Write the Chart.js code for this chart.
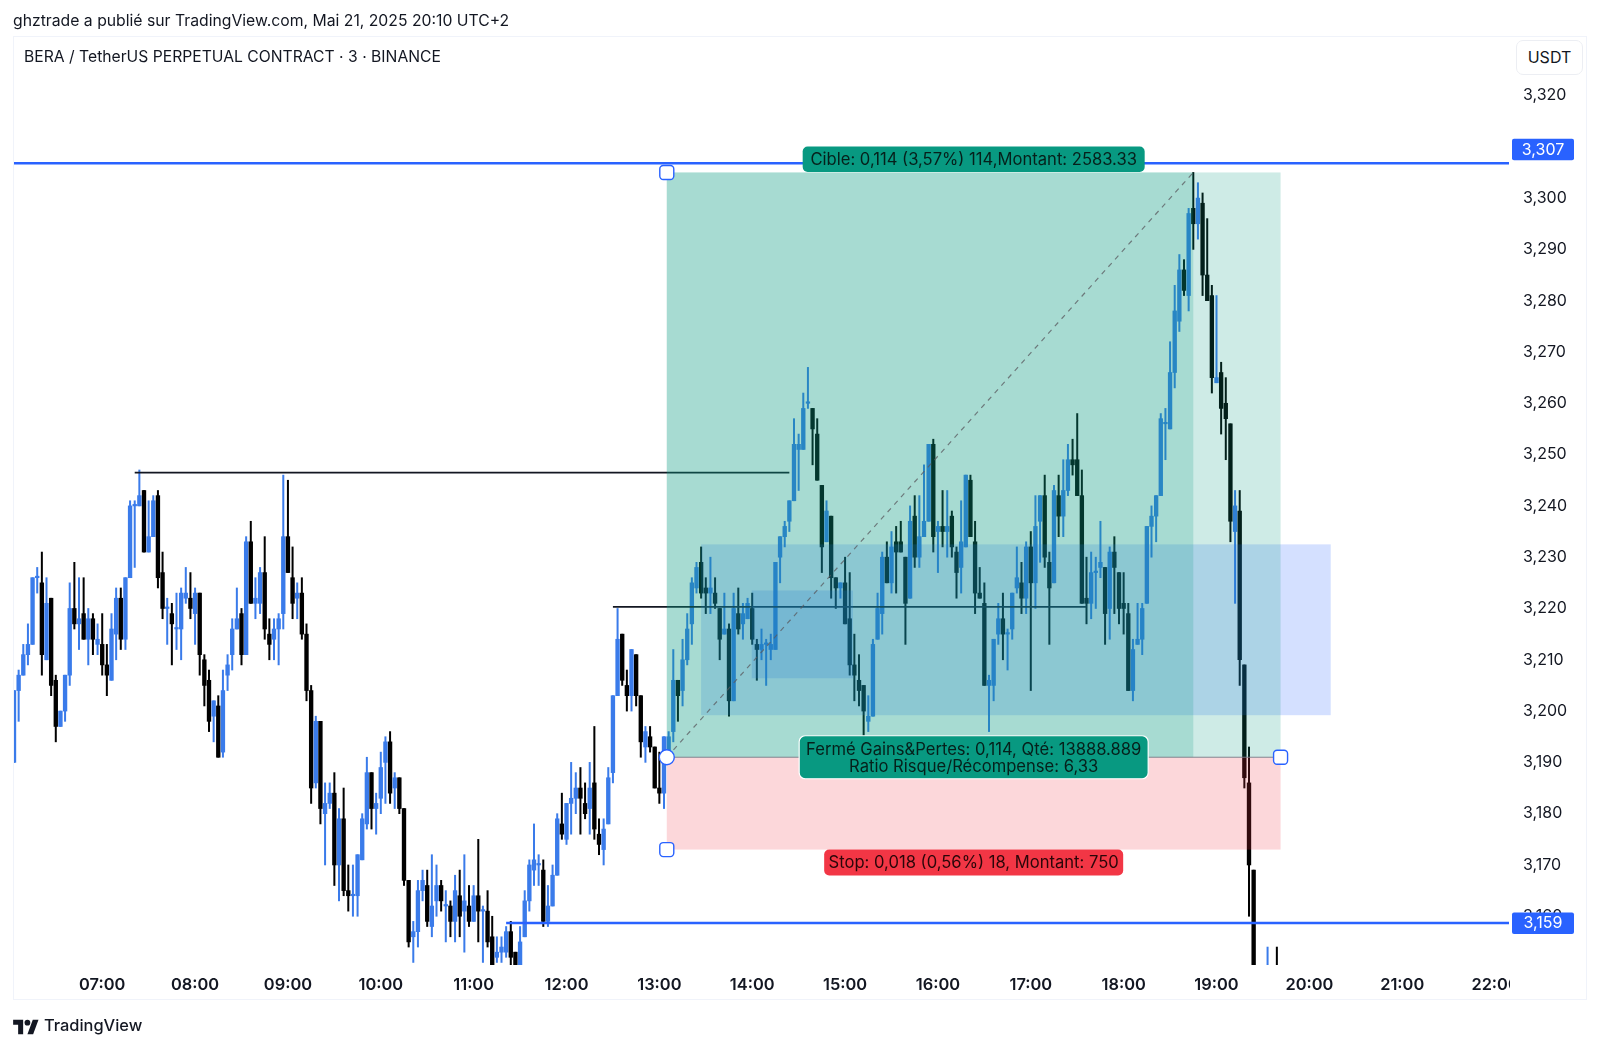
<!DOCTYPE html>
<html><head><meta charset="utf-8"><title>BERA / TetherUS</title>
<script src="https://cdn.jsdelivr.net/npm/chart.js@4/dist/chart.umd.min.js"></script>
<style>
html,body{margin:0;padding:0;background:#fff;width:1600px;height:1048px;overflow:hidden}
canvas{position:absolute;left:0;top:0}
.t{position:absolute;font-family:Inter,"Liberation Sans",sans-serif;color:#131722;white-space:nowrap}
</style></head><body>
<canvas id="c" width="1600" height="1048"></canvas>
<div class="t" style="left:13px;top:12px;font-size:15.75px;line-height:18px">ghztrade a publié sur TradingView.com, Mai 21, 2025 20:10 UTC+2</div>
<div class="t" style="left:24px;top:48px;font-size:15.7px;line-height:18px">BERA / TetherUS PERPETUAL CONTRACT · 3 · BINANCE</div>
<div class="t" style="left:1516px;top:40px;width:65px;height:33px;border:1px solid #eceef3;border-radius:7px;text-align:center;line-height:33px;font-size:16px;background:#fff">USDT</div>
<svg style="position:absolute;left:13px;top:1017px" width="26" height="20" viewBox="0 0 36 28"><path fill="#131722" d="M14 24H7V11H0V4h14v20zM28 24h-8l7.5-20h8L28 24z"/><circle cx="20" cy="8" r="4" fill="#131722"/></svg>
<div class="t" style="left:44px;top:1015px;font-size:16.4px;line-height:20px;font-weight:500">TradingView</div>
<script>
const hourTicks=["07:00","08:00","09:00","10:00","11:00","12:00","13:00","14:00","15:00","16:00","17:00","18:00","19:00","20:00","21:00","22:00"];
const opens=[3190,3204,3207,3211,3213,3226,3225,3210,3222,3206,
3197,3200,3207,3220,3217,3219,3214,3218,3213,3213,
3209,3206,3215,3222,3214,3226,3240,3240,3243,3231,
3234,3242,3227,3220,3219,3216,3216,3222,3222,3219,
3223,3210,3206,3199,3201,3192,3207,3211,3216,3219,
3211,3233,3221,3221,3227,3215,3214,3216,3219,3234,
3226,3222,3223,3215,3204,3186,3198,3180,3182,3184,
3170,3179,3165,3164,3164,3171,3178,3188,3181,3183,
3190,3194,3185,3187,3181,3167,3156,3157,3165,3166,
3158,3163,3166,3162,3162,3159,3164,3161,3162,3159,
3164,3161,3161,3156,3152,3153,3153,3157,3153,3149,
3156,3163,3169,3170,3169,3159,3162,3168,3178,3175,
3182,3183,3185,3182,3181,3186,3176,3173,3178,3188,
3203,3215,3205,3203,3211,3203,3193,3195,3193,3185,
3184,3192,3196,3206,3204,3210,3217,3224,3229,3224,
3223,3223,3220,3215,3216,3202,3219,3217,3218,3220,
3213,3212,3213,3212,3212,3230,3234,3237,3241,3251,
3251,3260,3259,3254,3244,3233,3238,3226,3224,3225,
3218,3209,3206,3205,3198,3199,3214,3219,3230,3225,
3233,3233,3230,3222,3238,3230,3234,3237,3252,3235,
3236,3235,3238,3231,3228,3232,3245,3233,3223,3221,
3205,3205,3215,3218,3215,3216,3224,3225,3222,3232,
3225,3237,3242,3229,3225,3242,3238,3243,3249,3249,
3242,3222,3221,3227,3228,3228,3220,3231,3227,3221,
3219,3204,3213,3214,3221,3236,3238,3242,3256,3255,
3266,3276,3286,3281,3298,3295,3299,3285,3281,3264,
3266,3260,3256,3235,3239,3209,3186,3169,3146,3143,
3144,3148,3147];
const highs=[3204,3208,3213,3217,3226,3228,3231,3226,3222,3207,
3200,3207,3225,3229,3226,3226,3220,3219,3217,3219,
3213,3219,3224,3224,3226,3241,3241,3247,3243,3241,
3242,3243,3231,3222,3221,3223,3224,3228,3227,3224,
3223,3211,3208,3202,3203,3208,3211,3218,3224,3220,
3234,3237,3226,3228,3234,3218,3218,3219,3246,3245,
3232,3225,3226,3217,3205,3199,3198,3186,3186,3188,
3181,3185,3170,3170,3172,3180,3191,3188,3184,3192,
3195,3196,3188,3187,3181,3167,3159,3167,3169,3169,
3172,3170,3167,3165,3163,3168,3169,3172,3166,3166,
3175,3162,3165,3160,3156,3156,3158,3159,3153,3158,
3165,3171,3178,3172,3171,3166,3170,3180,3184,3182,
3190,3188,3189,3186,3190,3197,3179,3179,3189,3203,
3220,3215,3208,3212,3211,3203,3197,3197,3193,3192,
3195,3196,3212,3206,3214,3219,3226,3229,3232,3226,
3230,3226,3220,3223,3217,3223,3224,3221,3222,3223,
3214,3216,3214,3215,3229,3234,3237,3241,3257,3254,
3262,3267,3259,3257,3244,3241,3238,3226,3225,3230,
3227,3215,3211,3205,3203,3214,3223,3231,3233,3235,
3236,3237,3230,3240,3242,3242,3248,3252,3253,3237,
3243,3243,3239,3232,3241,3246,3246,3237,3228,3225,
3207,3214,3221,3223,3216,3223,3232,3229,3233,3235,
3242,3242,3246,3231,3244,3246,3249,3252,3253,3258,
3247,3230,3231,3230,3237,3228,3232,3234,3227,3227,
3221,3214,3221,3221,3236,3240,3242,3258,3259,3272,
3283,3289,3288,3298,3305,3303,3301,3296,3283,3281,
3268,3265,3256,3243,3243,3209,3193,3169,3146,3146,
3154,3149,3154];
const lows=[3190,3198,3207,3209,3213,3223,3207,3210,3203,3194,
3197,3198,3205,3216,3212,3214,3209,3211,3211,3207,
3203,3206,3210,3212,3212,3226,3228,3240,3231,3231,
3234,3224,3218,3213,3209,3212,3210,3221,3218,3213,
3207,3201,3196,3194,3191,3191,3204,3208,3216,3209,
3211,3221,3218,3219,3214,3210,3210,3209,3216,3227,
3218,3218,3214,3202,3182,3185,3178,3170,3181,3166,
3163,3164,3161,3160,3160,3171,3177,3177,3176,3180,
3182,3182,3181,3180,3166,3154,3151,3154,3163,3158,
3156,3160,3161,3155,3156,3155,3156,3153,3158,3159,
3155,3151,3154,3149,3151,3151,3152,3150,3149,3149,
3156,3161,3166,3166,3158,3158,3162,3168,3175,3174,
3176,3180,3176,3179,3176,3175,3172,3170,3178,3186,
3203,3205,3200,3200,3201,3191,3190,3192,3185,3182,
3181,3192,3194,3198,3201,3209,3213,3223,3222,3219,
3219,3220,3210,3215,3199,3202,3215,3214,3218,3213,
3206,3210,3205,3210,3212,3225,3232,3235,3241,3243,
3251,3259,3248,3245,3227,3233,3222,3220,3222,3217,
3207,3202,3201,3195,3196,3199,3214,3215,3225,3223,
3223,3231,3213,3222,3228,3228,3234,3237,3231,3227,
3232,3230,3230,3222,3223,3232,3234,3219,3222,3205,
3196,3202,3213,3210,3208,3214,3223,3219,3219,3204,
3220,3229,3228,3213,3225,3234,3234,3242,3246,3242,
3221,3217,3218,3220,3226,3213,3214,3219,3217,3215,
3204,3202,3213,3211,3221,3230,3233,3242,3249,3255,
3263,3274,3281,3278,3290,3292,3281,3280,3262,3264,
3254,3249,3233,3221,3205,3185,3160,3140,3140,3140,
3140,3140,3140];
const closes=[3204,3207,3211,3213,3226,3226,3211,3221,3205,3197,
3200,3207,3220,3217,3218,3214,3218,3214,3214,3209,
3207,3216,3222,3214,3226,3240,3240,3242,3231,3234,
3241,3226,3220,3220,3217,3216,3223,3223,3220,3223,
3211,3205,3198,3202,3191,3204,3209,3216,3218,3211,
3233,3221,3222,3227,3216,3213,3216,3218,3234,3227,
3221,3223,3215,3204,3185,3198,3181,3182,3184,3170,
3179,3165,3164,3164,3172,3179,3188,3181,3182,3189,
3194,3184,3187,3181,3167,3155,3157,3165,3167,3159,
3162,3166,3163,3162,3159,3165,3160,3163,3159,3164,
3161,3161,3155,3149,3153,3154,3157,3152,3149,3155,
3163,3170,3171,3170,3159,3162,3168,3179,3176,3182,
3183,3185,3183,3180,3185,3177,3174,3177,3187,3203,
3214,3206,3203,3212,3203,3194,3196,3193,3185,3184,
3195,3195,3206,3203,3210,3216,3225,3228,3223,3223,
3224,3221,3214,3216,3202,3220,3216,3219,3221,3214,
3212,3213,3213,3213,3229,3234,3236,3241,3252,3252,
3259,3260,3255,3245,3232,3239,3226,3224,3225,3217,
3209,3207,3204,3200,3199,3213,3220,3230,3225,3232,
3231,3231,3221,3237,3230,3234,3237,3252,3234,3236,
3235,3236,3232,3227,3233,3246,3234,3223,3222,3205,
3206,3214,3218,3215,3215,3223,3226,3222,3232,3225,
3236,3242,3230,3224,3243,3238,3243,3249,3248,3242,
3221,3221,3227,3227,3229,3219,3231,3228,3220,3220,
3204,3212,3214,3220,3236,3238,3242,3257,3256,3266,
3278,3286,3282,3297,3295,3300,3285,3280,3265,3265,
3259,3257,3237,3240,3210,3187,3170,3148,3144,3146,
3147,3143,3144];
// levels and drawings (prices, candle indexes)
const blueLevels=[{y:3306.8,from:0,to:322,tag:"3,307",tagAbove:true},{y:3158.7,from:106,to:322,tag:"3,159",tagAbove:false}];
const blackLevels=[{y:3246.5,from:26,to:167},{y:3220.3,from:129,to:231}];
const position={left:140.6,fill:254,right:272.8,target:3305,entry:3191,stop:3173};
const blueBoxes=[{x0:148,x1:283.6,y0:3199.2,y1:3232.5},{x0:158.9,x1:180.7,y0:3206.4,y1:3223.5}];
const labelCible="Cible: 0,114 (3,57%) 114,Montant: 2583.33";
const labelClosed=["Fermé Gains&Pertes: 0,114, Qté: 13888.889","Ratio Risque/Récompense: 6,33"];
const labelStop="Stop: 0,018 (0,56%) 18, Montant: 750";
// categories: 3-minute bars from 06:03
const categories=[];
for(let k=0;k<323;k++){const m=363+k*3;categories.push(String(Math.floor(m/60)%24).padStart(2,"0")+":"+String(m%60).padStart(2,"0"));}

const BLUE="#3a7bea",BLACK="#000000",LINE="#2962ff";
const colors=closes.map((c,i)=>c>=opens[i]?BLUE:BLACK);
const FONT='Inter,"Liberation Sans",sans-serif';
function rr(ctx,x,y,w,h,r){ctx.beginPath();ctx.roundRect(x,y,w,h,r);}
const overlay={id:"overlay",
 afterDatasetsDraw(ch){
  const {ctx,scales:{x,y},chartArea:a}=ch;const X=v=>x.getPixelForValue(v),Y=v=>y.getPixelForValue(v);
  const p=position;
  ctx.save();ctx.beginPath();ctx.rect(a.left-1,a.top,a.right-a.left+1,a.bottom-a.top);ctx.clip();
  // blue boxes sit under the position tool
  for(const b of blueBoxes){ctx.fillStyle="rgba(41,98,255,0.2)";ctx.fillRect(X(b.x0),Y(b.y1),X(b.x1)-X(b.x0),Y(b.y0)-Y(b.y1));}
  // risk / reward zones
  ctx.fillStyle="rgba(8,153,129,0.2)";
  ctx.fillRect(X(p.left),Y(p.target),X(p.right)-X(p.left),Y(p.entry)-Y(p.target));
  ctx.fillRect(X(p.left),Y(p.target),X(p.fill)-X(p.left),Y(p.entry)-Y(p.target));
  ctx.fillStyle="rgba(242,54,69,0.2)";
  ctx.fillRect(X(p.left),Y(p.entry),X(p.right)-X(p.left),Y(p.stop)-Y(p.entry));
  // entry line
  ctx.strokeStyle="rgba(120,123,134,0.9)";ctx.lineWidth=1;ctx.beginPath();ctx.moveTo(X(p.left),Y(p.entry));ctx.lineTo(X(p.right),Y(p.entry));ctx.stroke();
  // dashed diagonal
  ctx.setLineDash([5,5]);ctx.strokeStyle="rgba(90,90,95,0.75)";ctx.lineWidth=1.2;ctx.beginPath();ctx.moveTo(X(p.left),Y(p.entry));ctx.lineTo(X(p.fill),Y(p.target));ctx.stroke();ctx.setLineDash([]);
  ctx.restore();
  // handles
  const hnd=(hx,hy,round)=>{ctx.fillStyle="#fff";ctx.strokeStyle=LINE;ctx.lineWidth=1.4;
    if(round){ctx.beginPath();ctx.arc(hx,hy,7.5,0,Math.PI*2);}else rr(ctx,hx-7,hy-7,14,14,3.5);ctx.fill();ctx.stroke();};
  hnd(X(p.left),Y(p.target),false);hnd(X(p.left),Y(p.stop),false);hnd(X(p.right),Y(p.entry),false);hnd(X(p.left),Y(p.entry),true);
  // labels
  const cx=X((p.left+p.right)/2);
  ctx.textAlign="center";ctx.textBaseline="middle";ctx.font="16.6px "+FONT;
  ctx.fillStyle="#089981";rr(ctx,cx-171,Y(p.target)-26,342,25.5,5);ctx.fill();
  ctx.fillStyle="#06201b";ctx.fillText(labelCible,cx,Y(p.target)-12.5);
  ctx.fillStyle="#089981";ctx.strokeStyle="#fff";ctx.lineWidth=1.2;rr(ctx,cx-174.5,Y(p.entry)-21.5,349,43,6);ctx.fill();ctx.stroke();
  ctx.fillStyle="#06201b";ctx.fillText(labelClosed[0],cx,Y(p.entry)-7);ctx.fillText(labelClosed[1],cx,Y(p.entry)+9.5);
  ctx.fillStyle="#f23645";rr(ctx,cx-149.5,Y(p.stop),299,26,5);ctx.fill();
  ctx.fillStyle="#2a0609";ctx.fillText(labelStop,cx,Y(p.stop)+13);
 },
 afterDraw(ch){
  const {ctx,scales:{y},chartArea:a}=ch;
  ctx.save();
  // right side of the time axis is cut by the price scale
  ctx.fillStyle="#fff";ctx.fillRect(a.right+1,a.bottom+2,90,32);
  // price tags
  ctx.textAlign="center";ctx.textBaseline="middle";ctx.font="16px "+FONT;
  for(const l of blueLevels){const py=y.getPixelForValue(l.y);const top=l.tagAbove?py-24.5:py-10.5;
    ctx.fillStyle=LINE;rr(ctx,1512,top,62,21.5,2);ctx.fill();ctx.fillStyle="#fff";ctx.fillText(l.tag,1543,top+11);}
  // pane frame
  ctx.strokeStyle="#f0f3fa";ctx.lineWidth=1;ctx.strokeRect(13.5,36.5,1573,963);
  ctx.restore();
 }};
const lineSets=[...blueLevels.map(l=>({type:"line",data:[{x:categories[l.from],y:l.y},{x:categories[l.to],y:l.y}],borderColor:LINE,borderWidth:2.6,pointRadius:0,order:0})),
 ...blackLevels.map(l=>({type:"line",data:[{x:categories[l.from],y:l.y},{x:categories[l.to],y:l.y}],borderColor:"#131722",borderWidth:1.8,pointRadius:0,order:0}))];
new Chart(document.getElementById("c"),{
 type:"bar",
 data:{labels:categories,datasets:[
  {label:"wick",data:lows.map((l,i)=>[l,highs[i]]),backgroundColor:colors,barThickness:1.35,grouped:false,order:2},
  {label:"body",data:opens.map((o,i)=>[Math.min(o,closes[i]),Math.max(o,closes[i])]),backgroundColor:colors,barThickness:3.7,minBarLength:1.5,grouped:false,order:1},
  ...lineSets]},
 options:{responsive:false,animation:false,devicePixelRatio:1,
  layout:{padding:{left:14,top:36,right:0,bottom:0}},
  plugins:{legend:{display:false},tooltip:{enabled:false},title:{display:false}},
  scales:{
   x:{type:"category",offset:false,grid:{display:false},border:{display:false},
      afterFit:s=>{s.height=83;},
      ticks:{autoSkip:false,maxRotation:0,minRotation:0,padding:2,color:"#131722",font:{family:FONT,size:16.4,weight:"600"},
       callback(v){const t=this.getLabelForValue(v);return hourTicks.includes(t)?t:"";}}},
   y:{position:"right",min:3150.5,max:3331.6,grid:{display:false},border:{display:false},
      afterFit:s=>{s.width=91;},
      ticks:{stepSize:10,includeBounds:false,padding:6,color:"#131722",font:{family:FONT,size:16},
       callback(v){return v<=3320&&v>=3160?v.toLocaleString("en-US"):"";}}}
  }},
 plugins:[overlay]});
</script></body></html>
